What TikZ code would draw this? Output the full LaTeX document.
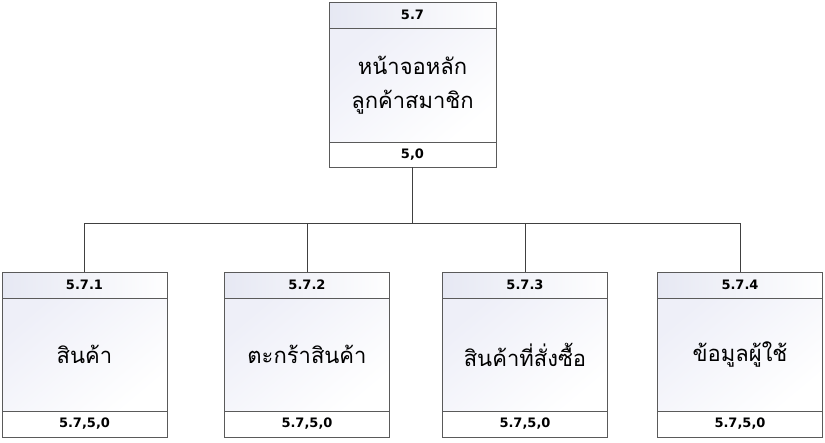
\documentclass[tikz,border=0pt]{standalone}
\usepackage{fontspec}
\newfontfamily\thaifont[Script=Thai]{Loma}
\newfontfamily\numfont{DejaVu Sans}
\definecolor{edgegray}{HTML}{5A5A5A}
\definecolor{hdrblue}{HTML}{E6E8F3}
\definecolor{bodyblue}{HTML}{EEEFF8}
\tikzset{
 hdcell/.style={draw=edgegray, line width=1pt, outer sep=0pt, inner sep=0pt,
  minimum height=26pt, left color=hdrblue, right color=white!97!hdrblue,
  font=\numfont\bfseries\fontsize{13}{15}\selectfont},
 bodycell/.style={draw=edgegray, line width=1pt, outer sep=0pt, inner sep=0pt,
  top color=bodyblue, bottom color=white, shading angle=40,
  align=center, font=\thaifont\fontsize{22}{34}\selectfont},
 ftcell/.style={draw=edgegray, line width=1pt, outer sep=0pt, inner sep=0pt,
  minimum height=26pt, fill=white,
  font=\numfont\bfseries\fontsize{13}{15}\selectfont},
 wire/.style={draw=black!75, line width=0.8pt}
}
\begin{document}
\begin{tikzpicture}[x=1pt, y=-1pt]
 \useasboundingbox (0,0) rectangle (825,442);
 % main box
 \node[hdcell, minimum width=167pt, anchor=north] (mainhd) at (412.5,2) {5.7};
 \node[bodycell, minimum width=167pt, minimum height=114pt, anchor=north] (mainbd) at (mainhd.south) {หน้าจอหลัก\\ลูกค้าสมาชิก};
 \node[ftcell, minimum width=167pt, minimum height=25pt, anchor=north] (mainft) at (mainbd.south) {5,0};
 \coordinate (bus) at (412.5,223);
 \draw[wire] (mainft.south) -- (bus);
 % sub boxes
 \foreach \x/\id/\num/\txt in {84.5/a/5.7.1/สินค้า, 307/b/5.7.2/ตะกร้าสินค้า, 525/c/5.7.3/สินค้าที่สั่งซื้อ, 740/d/5.7.4/ข้อมูลผู้ใช้}{
  \node[hdcell, minimum width=165pt, anchor=north] (hd\id) at (\x,272) {\num};
  \node[bodycell, minimum width=165pt, minimum height=113pt, anchor=north] (bd\id) at (hd\id.south) {\txt};
  \node[ftcell, minimum width=165pt, anchor=north] (ft\id) at (bd\id.south) {5.7,5,0};
  \draw[wire] (bus) -| (hd\id.north);
 }
\end{tikzpicture}
\end{document}
